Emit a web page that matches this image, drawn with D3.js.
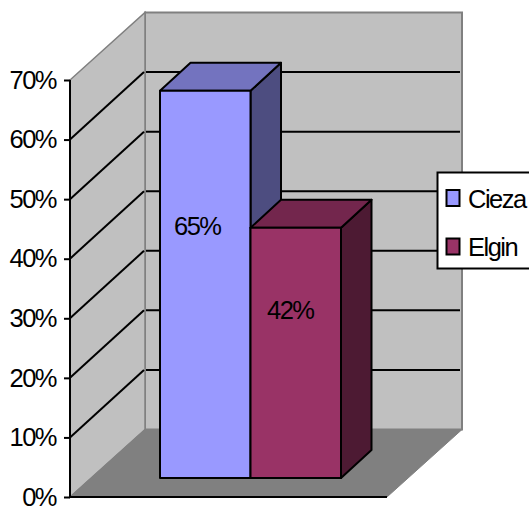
<!DOCTYPE html>
<html><head><meta charset="utf-8">
<script src="https://cdn.jsdelivr.net/npm/d3@7/dist/d3.min.js"></script>
<style>html,body{margin:0;padding:0;background:#fff;overflow:hidden}svg{display:block}
text{font-family:"Liberation Sans",Arial,sans-serif;fill:#000}</style></head>
<body><svg id="c" width="529" height="508"></svg>
<script>
const series = ["Cieza","Elgin"];
const values = [0.65,0.42];
const tickValues = [0,0.1,0.2,0.3,0.4,0.5,0.6,0.7];
const barFront = ["#9999ff","#993366"];
const barTop = ["#7373bf","#73264d"];
const barSide = ["#4d4d80","#4d1a33"];

const svg = d3.select("#c");
const y = d3.scaleLinear().domain([0,0.7]).range([497,80]);
const x = d3.scaleBand().domain(series).range([160,341]).paddingInner(0).paddingOuter(0);
const fmt = d3.format(".0%");
const wall = {x0:70,x1:387,dx:75,dy:-67.5};
const bar = {dx:30.5,dy:-28,lift:-19};
const poly = pts => pts.map(p=>p.join(",")).join(" ");
const wallFill="#c0c0c0", edge="#808080";
const fontSize = 25.5, tight = -1.5;

svg.append("polygon").attr("points",poly([[wall.x0+wall.dx,y(0)+wall.dy],[wall.x1+wall.dx,y(0)+wall.dy],[wall.x1+wall.dx,y(.7)+wall.dy],[wall.x0+wall.dx,y(.7)+wall.dy]]))
  .attr("fill",wallFill).attr("stroke",edge).attr("stroke-width",2);
svg.append("polygon").attr("points",poly([[wall.x0,y(0)],[wall.x0+wall.dx,y(0)+wall.dy],[wall.x0+wall.dx,y(.7)+wall.dy],[wall.x0,y(.7)]]))
  .attr("fill",wallFill).attr("stroke",edge).attr("stroke-width",1.5);
svg.append("polygon").attr("points",poly([[wall.x0,y(0)],[wall.x1,y(0)],[wall.x1+wall.dx,y(0)+wall.dy],[wall.x0+wall.dx,y(0)+wall.dy]]))
  .attr("fill",edge).attr("stroke",edge).attr("stroke-width",1);

const gridTicks = tickValues.slice(1,-1);
const grid = svg.append("g").attr("stroke","#000").attr("stroke-width",2).attr("fill","none");
grid.selectAll(".s").data(gridTicks).join("line").attr("class","s")
  .attr("x1",wall.x0).attr("y1",d=>y(d)).attr("x2",wall.x0+wall.dx-1).attr("y2",d=>y(d)+wall.dy);
grid.selectAll(".b").data(gridTicks).join("line").attr("class","b")
  .attr("x1",wall.x0+wall.dx+1).attr("y1",d=>y(d)+wall.dy).attr("x2",wall.x1+wall.dx-2).attr("y2",d=>y(d)+wall.dy);

svg.append("line").attr("x1",wall.x0).attr("x2",wall.x1).attr("y1",y(0)).attr("y2",y(0)).attr("stroke","#000").attr("stroke-width",2);
const ax = svg.append("g").attr("transform",`translate(${wall.x0},0)`)
  .call(d3.axisLeft(y).tickValues(tickValues).tickFormat(fmt).tickSize(6).tickPadding(8));
ax.selectAll("path,line").attr("stroke","#000").attr("stroke-width",2);
ax.select("path").attr("d",`M0,${y(.7)}V${y(0)}`);
ax.selectAll("text").attr("font-size",fontSize).attr("letter-spacing",tight).attr("fill","#000");

const labelDx = [-8,-5.5];
const labelFrac = [0.348,0.33];
const g = svg.append("g");
[0,1].forEach(i=>{
  const l=x(series[i]), r=l+x.bandwidth(), b=y(0)+bar.lift, t=b+y(values[i])-y(0);
  const m = g.append("g").attr("stroke","#000").attr("stroke-width",2).attr("stroke-linejoin","round");
  m.append("polygon").attr("points",poly([[r,b],[r+bar.dx,b+bar.dy],[r+bar.dx,t+bar.dy],[r,t]])).attr("fill",barSide[i]);
  m.append("polygon").attr("points",poly([[l,t],[r,t],[r+bar.dx,t+bar.dy],[l+bar.dx,t+bar.dy]])).attr("fill",barTop[i]);
  m.append("rect").attr("x",l).attr("y",t).attr("width",x.bandwidth()).attr("height",b-t).attr("fill",barFront[i]);
  g.append("text").attr("x",(l+r)/2+labelDx[i]).attr("y",t+(b-t)*labelFrac[i]+9).attr("text-anchor","middle")
    .attr("font-size",fontSize).attr("letter-spacing",tight).text(fmt(values[i]));
});

const lg = svg.append("g");
lg.append("rect").attr("x",437.5).attr("y",172.5).attr("width",100).attr("height",96).attr("fill","#fff").attr("stroke","#000").attr("stroke-width",2);
const rowY = d3.scalePoint().domain(series).range([198,246.5]);
series.forEach((s,i)=>{
  lg.append("rect").attr("x",446.5).attr("y",rowY(s)-8).attr("width",13).attr("height",16).attr("fill",barFront[i]).attr("stroke","#000").attr("stroke-width",2);
  lg.append("text").attr("x",468).attr("y",rowY(s)+9.5).attr("font-size",fontSize).attr("letter-spacing",tight).text(s);
});
</script></body></html>
